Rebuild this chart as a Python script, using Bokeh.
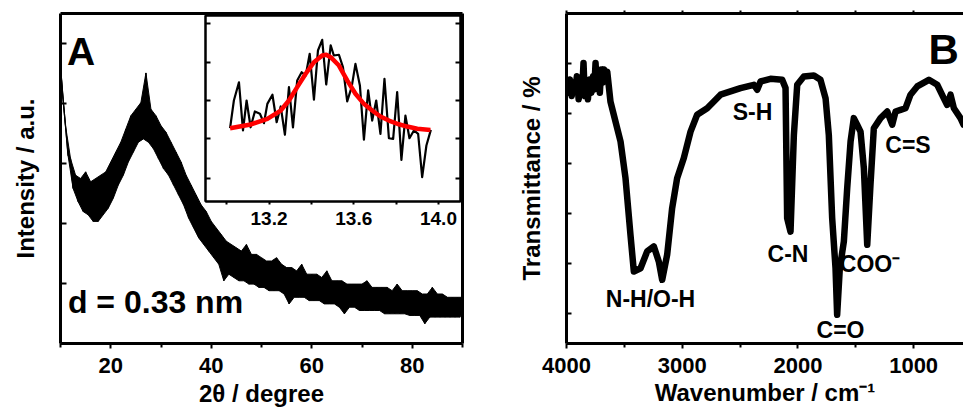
import numpy as np
from bokeh.plotting import figure
from bokeh.models import Range1d, LinearAxis, FixedTicker, NumeralTickFormatter, GridBox
from bokeh.core.properties import value
from bokeh.embed import file_html
from bokeh.resources import INLINE

FONT = "Liberation Sans"

# ---------------- Panel A : XRD (arbitrary intensity units) ----------------
xrd_upper_x = list(range(10, 91))
xrd_upper = [84, 66, 56, 51, 50, 52, 49, 50, 51, 52, 55, 58, 61, 65, 69, 71, 73, 82, 71, 69,
             66, 64, 61, 58, 55, 51, 48, 45, 42, 40, 37, 35, 33, 31, 30, 29, 28, 30, 27, 27,
             26, 25, 25, 26, 24, 23, 23, 22, 24, 21, 21, 21, 20, 22, 19, 19, 19, 18, 18, 18,
             18, 19, 17, 17, 17, 17, 16, 18, 16, 16, 16, 16, 15, 15, 17, 15, 15, 14, 14, 14, 14]
xrd_lower_x = [v + 0.5 for v in range(10, 90)]
xrd_lower = [74, 57, 47, 43, 40, 39, 37, 37, 39, 41, 44, 48, 51, 55, 58, 61, 62, 61, 59, 56,
             53, 51, 48, 45, 42, 38, 35, 32, 30, 28, 26, 24, 19, 21, 20, 19, 19, 18, 18, 17,
             17, 16, 16, 16, 15, 12, 14, 14, 14, 13, 13, 13, 12, 12, 12, 11, 9, 11, 11, 10,
             10, 10, 10, 10, 9, 9, 9, 9, 9, 8.5, 8.5, 8.5, 6, 8, 8, 8, 8, 8, 8, 8]
xrd_ticks = [20, 40, 60, 80]
xrd_minor = [10, 30, 50, 70, 90]

# inset : measured points and fitted curve
inset_x = [13.016, 13.034, 13.058, 13.077, 13.094, 13.113, 13.133, 13.157, 13.176, 13.192,
           13.216, 13.236, 13.255, 13.275, 13.294, 13.313, 13.333, 13.354, 13.373, 13.392,
           13.412, 13.431, 13.451, 13.470, 13.491, 13.506, 13.530, 13.549, 13.569, 13.590,
           13.608, 13.629, 13.648, 13.668, 13.687, 13.706, 13.726, 13.745, 13.766, 13.786,
           13.805, 13.825, 13.844, 13.863, 13.884, 13.904, 13.923, 13.943, 13.964]
inset_y = [39.4, 54.3, 64.1, 38.2, 54.3, 39.9, 48.4, 47.2, 42.1, 52.5,
           57.4, 42.6, 51.1, 35.9, 61.5, 39.9, 65.1, 69.5, 67.7, 79.4,
           54.8, 81.2, 86.9, 62.9, 83.9, 78.5, 78.9, 72.2, 53.8, 61.5,
           74.0, 62.4, 33.3, 59.7, 43.5, 54.3, 36.4, 66.0, 34.0, 33.7,
           58.8, 22.4, 46.2, 34.0, 38.2, 36.4, 13.1, 30.1, 38.5]
fit_x = [13.016, 13.113, 13.192, 13.255, 13.294, 13.333, 13.373, 13.412, 13.451, 13.470, 13.491,
         13.530, 13.569, 13.608, 13.648, 13.687, 13.726, 13.766, 13.805, 13.852, 13.900, 13.962]
fit_y = [39.4, 41.4, 44.4, 48.9, 54.3, 61.5, 68.7, 74.9, 78.5, 78.9, 77.6,
         73.1, 65.1, 57.9, 52.5, 48.9, 45.7, 43.5, 41.8, 40.3, 39.1, 38.5]
inset_ticks = [13.2, 13.6, 14.0]
inset_minor = [13.0, 13.4, 13.8]

# ---------------- Panel B : FTIR ----------------
ftir_wn = [4000, 3985, 3970, 3955, 3940, 3925, 3910, 3895, 3880, 3865, 3853, 3842, 3830, 3815,
           3800, 3785, 3770, 3760, 3749, 3738, 3725, 3712, 3700, 3688, 3675, 3660, 3648, 3620,
           3533, 3490, 3447, 3418, 3360, 3303, 3245, 3202, 3173, 3130, 3087, 3044, 2986, 2928,
           2871, 2784, 2669, 2496, 2381, 2352, 2323, 2237, 2136, 2107, 2093, 2064, 2035, 2006,
           1949, 1862, 1805, 1761, 1733, 1704, 1675, 1661, 1638, 1603, 1574, 1545, 1517, 1488,
           1459, 1430, 1401, 1373, 1344, 1286, 1228, 1185, 1156, 1113, 1070, 1027, 969, 868,
           796, 739, 710, 681, 652, 595, 569]
ftir_t = [78, 76, 80, 75, 79, 77, 81, 74, 79, 76, 85, 75, 78, 74,
          80, 76, 81, 77, 85, 78, 82, 76, 83, 79, 83, 80, 82.4, 73.3,
          61.2, 50.1, 32.9, 21.8, 22.8, 27.9, 29.4, 24.8, 19.3, 26.9, 41.0, 50.1, 56.2, 64.2,
          69.3, 71.3, 75.4, 77.4, 78.4, 76.9, 79.4, 80.2, 79.9, 77.4, 38.0, 33.9, 63.2, 78.4,
          80.9, 81.2, 79.9, 74.3, 63.2, 38.0, 22.8, 8.7, 22.8, 30.9, 47.1, 61.2, 68.3, 66.3,
          64.2, 53.1, 29.9, 48.1, 65.2, 68.3, 70.3, 66.3, 70.3, 70.8, 71.3, 75.4, 77.9, 79.9,
          78.4, 74.3, 72.3, 75.4, 71.3, 68.3, 66.3]
ftir_ticks = [4000, 3000, 2000, 1000]
ftir_minor = [3500, 2500, 1500]
band_names = ["N-H/O-H", "S-H", "C-N", "C=O", "COO\u207b", "C=S"]
band_wn = [3274, 2392, 2086, 1632, 1377, 1049]
band_t = [13.5, 70.3, 27.0, 4.2, 24.1, 60.3]


def style_axis(ax, label_size="22px", lw=3):
    ax.axis_line_width = lw
    ax.axis_line_color = "black"
    ax.major_tick_line_width = 2
    ax.minor_tick_line_width = 2
    ax.major_tick_line_color = "black"
    ax.minor_tick_line_color = "black"
    ax.major_label_text_font = FONT
    ax.major_label_text_font_style = "bold"
    ax.major_label_text_font_size = label_size
    ax.major_label_text_color = "black"
    ax.axis_label_text_font = FONT
    ax.axis_label_text_font_style = "bold"
    ax.axis_label_text_font_size = "24px"
    ax.axis_label_text_color = "black"


def bare_axis(ax, marks, tick_in=6, tick_out=0, lw=3):
    """Axis without labels: only a line and (minor-style) tick marks."""
    ax.ticker = FixedTicker(ticks=[], minor_ticks=marks)
    ax.axis_line_width = lw
    ax.axis_line_color = "black"
    ax.minor_tick_line_width = 2
    ax.minor_tick_line_color = "black"
    ax.minor_tick_in = tick_in
    ax.minor_tick_out = tick_out
    ax.major_tick_in = 0
    ax.major_tick_out = 0
    ax.major_label_standoff = 0


# ---------- panel A ----------
pA = figure(width=470, height=402, x_range=Range1d(10, 90), y_range=Range1d(0, 100),
            output_backend="svg", toolbar_location=None,
            min_border_left=48, min_border_right=16, min_border_top=5, min_border_bottom=67,
            x_axis_label="2\u03b8 / degree", y_axis_label="Intensity / a.u.")
pA.grid.visible = False
pA.outline_line_color = None
pA.border_fill_color = "white"

xa = pA.xaxis[0]
style_axis(xa)
xa.ticker = FixedTicker(ticks=xrd_ticks, minor_ticks=xrd_minor)
xa.major_tick_in = 0
xa.major_tick_out = 5
xa.minor_tick_in = 0
xa.minor_tick_out = 4
xa.major_label_standoff = 9
xa.axis_label_standoff = 4

ya = pA.yaxis[0]
bare_axis(ya, [0, 18.18, 36.36, 54.55, 72.73, 90.91], tick_in=6)
style_axis(ya)
ya.axis_label_standoff = 22

top_a = LinearAxis()
bare_axis(top_a, [], tick_in=0)
pA.add_layout(top_a, "above")
right_a = LinearAxis()
bare_axis(right_a, [], tick_in=0)
pA.add_layout(right_a, "right")

band_x = xrd_upper_x + xrd_lower_x[::-1]
band_y = xrd_upper + xrd_lower[::-1]
pA.patch(band_x, band_y, fill_color="black", line_color="black", line_width=1)
zig_x, zig_y = [], []
for i in range(len(xrd_lower_x)):
    zig_x += [xrd_upper_x[i], xrd_lower_x[i]]
    zig_y += [xrd_upper[i], xrd_lower[i]]
zig_x.append(xrd_upper_x[-1])
zig_y.append(xrd_upper[-1])
pA.line(zig_x, zig_y, line_color="black", line_width=1.3)

pA.text(x=[11.28], y=[88.5], text=["A"], text_font=value(FONT), text_font_style="bold",
        text_font_size="39px", text_align="left", text_baseline="middle", text_color="black")
pA.text(x=[11.48], y=[12.6], text=["d = 0.33 nm"], text_font=value(FONT), text_font_style="bold",
        text_font_size="32px", text_align="left", text_baseline="middle", text_color="black")

# ---------- inset ----------
inset = figure(width=262, height=222, x_range=Range1d(12.90, 14.104), y_range=Range1d(0, 100),
               output_backend="svg", toolbar_location=None,
               min_border_left=5, min_border_right=2, min_border_top=2, min_border_bottom=34)
inset.grid.visible = False
inset.border_fill_color = None
inset.background_fill_color = "white"
inset.outline_line_color = "black"
inset.outline_line_width = 2
inset.outline_line_alpha = 1

ix = inset.xaxis[0]
style_axis(ix, label_size="19px", lw=2)
ix.ticker = FixedTicker(ticks=inset_ticks, minor_ticks=inset_minor)
ix.formatter = NumeralTickFormatter(format="0.0")
ix.major_tick_in = 0
ix.major_tick_out = 3
ix.minor_tick_in = 0
ix.minor_tick_out = 3
ix.major_label_standoff = 7

inset_marks = [12.4, 33.9, 54.3, 74.7, 95.7]
iy = inset.yaxis[0]
bare_axis(iy, inset_marks, tick_in=5, lw=2)
iy_r = LinearAxis()
bare_axis(iy_r, inset_marks, tick_in=5, lw=2)
inset.add_layout(iy_r, "right")
iy_t = LinearAxis()
bare_axis(iy_t, [], tick_in=0, lw=2)
inset.add_layout(iy_t, "above")

inset.line(inset_x, inset_y, line_color="black", line_width=2.2, line_join="round")
inset.line(fit_x, fit_y, line_color="#ff0000", line_width=4.5, line_join="round")

# ---------- panel B ----------
pB = figure(width=485, height=402, x_range=Range1d(4000, 569), y_range=Range1d(0, 100),
            output_backend="svg", toolbar_location=None,
            min_border_left=88, min_border_right=0, min_border_top=4, min_border_bottom=67,
            x_axis_label="Wavenumber / cm\u207b\u00b9", y_axis_label="Transmittance / %")
pB.grid.visible = False
pB.outline_line_color = None
pB.border_fill_color = "white"

xb = pB.xaxis[0]
style_axis(xb)
xb.ticker = FixedTicker(ticks=ftir_ticks, minor_ticks=ftir_minor)
xb.major_tick_in = 0
xb.major_tick_out = 5
xb.minor_tick_in = 0
xb.minor_tick_out = 4
xb.major_label_standoff = 9
xb.axis_label_standoff = 3

yb = pB.yaxis[0]
bare_axis(yb, [9.1, 24.2, 39.4, 54.5, 69.7, 84.8], tick_in=5)
style_axis(yb)
yb.axis_label_standoff = 22

top_b = LinearAxis()
bare_axis(top_b, ftir_ticks + ftir_minor, tick_in=0, tick_out=3)
pB.add_layout(top_b, "above")

pB.line(ftir_wn, ftir_t, line_color="black", line_width=6.5, line_join="round", line_cap="round")
pB.text(x=band_wn, y=band_t, text=band_names, text_font=value(FONT), text_font_style="bold",
        text_font_size="23px", text_align="center", text_baseline="middle", text_color="black")
pB.text(x=[871], y=[89.1], text=["B"], text_font=value(FONT), text_font_style="bold",
        text_font_size="42px", text_align="left", text_baseline="middle", text_color="black")

grid = GridBox(children=[(pA, 1, 1, 3, 3), (pB, 1, 4, 3, 1), (inset, 2, 2, 1, 1)],
               rows=["8px", "5px", "222px", "175px"],
               cols=["8px", "192px", "262px", "16px", "485px"],
               spacing=0)

open("out.html", "w").write(file_html(grid, INLINE))
